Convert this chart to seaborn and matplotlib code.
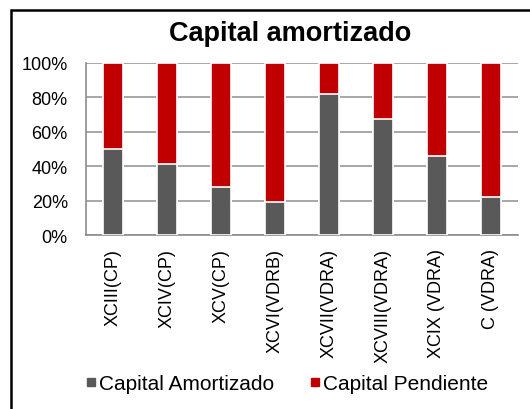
import matplotlib
matplotlib.use("Agg")
import matplotlib.pyplot as plt
from matplotlib.lines import Line2D
from matplotlib.patches import Rectangle
import seaborn as sns
import pandas as pd

# data (percent)
categories = ["XCIII(CP)", "XCIV(CP)", "XCV(CP)", "XCVI(VDRB)",
              "XCVII(VDRA)", "XCVIII(VDRA)", "XCIX (VDRA)", "C (VDRA)"]
amortizado = [50.1, 41.5, 27.8, 19.5, 82.2, 67.6, 46.2, 22.0]
pendiente = [49.9, 58.5, 72.2, 80.5, 17.8, 32.4, 53.8, 78.0]

gray = "#595959"
red = "#C00000"

df = pd.DataFrame({"cat": categories, "amort": amortizado, "pend": pendiente})
df["total"] = df["amort"] + df["pend"]

sns.set_style("white")
plt.rcParams["font.family"] = ["Liberation Sans", "DejaVu Sans"]
plt.rcParams["text.color"] = "black"
plt.rcParams["xtick.color"] = "black"
plt.rcParams["ytick.color"] = "black"

fig = plt.figure(figsize=(5.3, 4.1), dpi=100)
ax = fig.add_axes([0.162, 0.424, 0.815, 0.42])

#stacked: full bar in red, amortized part in gray over it
sns.barplot(data=df, x="cat", y="total", color=red, saturation=1, width=0.37,
            edgecolor="white", linewidth=1.2, ax=ax, zorder=3)
sns.barplot(data=df, x="cat", y="amort", color=gray, saturation=1, width=0.37,
            edgecolor="white", linewidth=1.2, ax=ax, zorder=4)

ax.set_ylim(0, 100)
ax.set_xlim(-0.5, len(categories) - 0.5)
ax.set_yticks(range(0, 101, 20))
ax.set_yticklabels([f"{v}%" for v in range(0, 101, 20)], fontsize=13)
ax.set_xticklabels(categories, rotation=90, fontsize=13)
ax.set_xticks([i + 0.5 for i in range(-1, len(categories))], minor=True)
ax.tick_params(axis="x", which="major", length=0, pad=9)
ax.tick_params(axis="x", which="minor", length=5, color="#8c8c8c", width=1.2)
ax.tick_params(axis="y", length=0, pad=13)
ax.set_xlabel("")
ax.set_ylabel("")
ax.yaxis.grid(True, color="#a0a0a0", linewidth=1.3, zorder=0)
ax.set_axisbelow(True)
for s in ["top", "right"]:
    ax.spines[s].set_visible(False)
for s in ["left", "bottom"]:
    ax.spines[s].set_color("#8c8c8c")
    ax.spines[s].set_linewidth(1.2)

fig.text(0.547, 0.918, "Capital amortizado", ha="center", va="center",
         fontsize=19.5, fontweight="bold", color="black")

handles = [Line2D([], [], marker="s", linestyle="", color=gray, markersize=5.5),
           Line2D([], [], marker="s", linestyle="", color=red, markersize=5.5)]
fig.legend(handles, ["Capital Amortizado", "Capital Pendiente"], ncol=2,
           loc="center", bbox_to_anchor=(0.54, 0.062), frameon=False,
           fontsize=15, handletextpad=0.05, columnspacing=1.6, handlelength=0.7)

# outer frame, partly cut off like the original
fig.patches.append(Rectangle((11 / 530, -0.05), 1.1, 0.976 - -0.05 - 0.002,
                             transform=fig.transFigure, fill=False,
                             edgecolor="black", linewidth=1.8, clip_on=False))

fig.savefig("out.png", dpi=100)
